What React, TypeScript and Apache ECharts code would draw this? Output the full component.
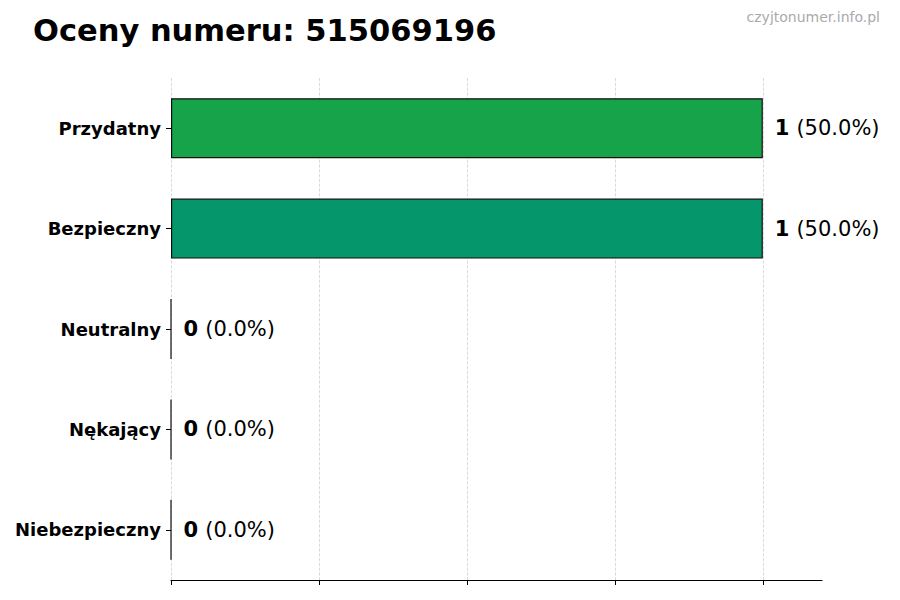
import { useEffect, useRef } from 'react';
import * as echarts from 'echarts';

const categories = ['Przydatny', 'Bezpieczny', 'Neutralny', 'Nękający', 'Niebezpieczny'];
const counts = [1, 1, 0, 0, 0];
const percents = ['50.0%', '50.0%', '0.0%', '0.0%', '0.0%'];
const barColors = ['#17a34a', '#05966b', '#6b7280', '#dc6a2a', '#dc2626'];
const xTicks = [0, 0.25, 0.5, 0.75, 1];

const FONT = '"DejaVu Sans", sans-serif';

export default function App() {
  const chartRef = useRef<HTMLDivElement | null>(null);

  useEffect(() => {
    if (!chartRef.current) {
      return;
    }
    const chart = echarts.init(chartRef.current, null, { renderer: 'svg' });
    chart.setOption({
      animation: false,
      backgroundColor: '#ffffff',
      textStyle: { fontFamily: FONT },
      title: [
        {
          text: 'Oceny numeru: 515069196',
          left: 28,
          top: 10,
          textStyle: { fontFamily: FONT, fontSize: 30.5, fontWeight: 'bold', color: '#000000' },
        },
        {
          text: 'czyjtonumer.info.pl',
          right: 15,
          top: 5,
          textStyle: { fontFamily: FONT, fontSize: 14, fontWeight: 'normal', color: '#aaaaaa' },
        },
      ],
      grid: { left: 171, right: 78, top: 78, bottom: 20 },
      xAxis: {
        type: 'value',
        min: 0,
        max: 1.1,
        interval: 0.25,
        axisLine: { show: true, lineStyle: { color: '#000000', width: 1.2 } },
        axisTick: { show: true, customValues: xTicks, length: 5, lineStyle: { color: '#000000' } },
        axisLabel: { show: false },
        splitLine: { show: true, lineStyle: { color: '#d0d0d0', type: 'dashed', width: 0.8 } },
      },
      yAxis: {
        type: 'category',
        data: categories,
        inverse: true,
        axisLine: { show: false },
        axisTick: { show: true, alignWithLabel: true, length: 5, lineStyle: { color: '#000000' } },
        axisLabel: { fontFamily: FONT, fontSize: 18, fontWeight: 'bold', color: '#000000', margin: 10 },
        splitLine: { show: false },
      },
      series: [
        {
          type: 'bar',
          data: counts.map((v, i) => ({ value: v, itemStyle: { color: barColors[i] } })),
          barWidth: 60,
          itemStyle: { borderColor: '#111111', borderWidth: 1.2 },
          label: {
            show: true,
            position: 'right',
            distance: 12,
            formatter: (p: any) => `{b|${counts[p.dataIndex]}}{n|(${percents[p.dataIndex]})}`,
            rich: {
              b: { fontFamily: FONT, fontSize: 21, fontWeight: 'bold', color: '#000000', padding: [0, 7, 0, 0] },
              n: { fontFamily: FONT, fontSize: 21, color: '#000000' },
            },
          },
        },
      ],
    });
    return () => {
      chart.dispose();
    };
  }, []);

  return <div ref={chartRef} style={{ width: 900, height: 600, margin: -8 }} />;
}
